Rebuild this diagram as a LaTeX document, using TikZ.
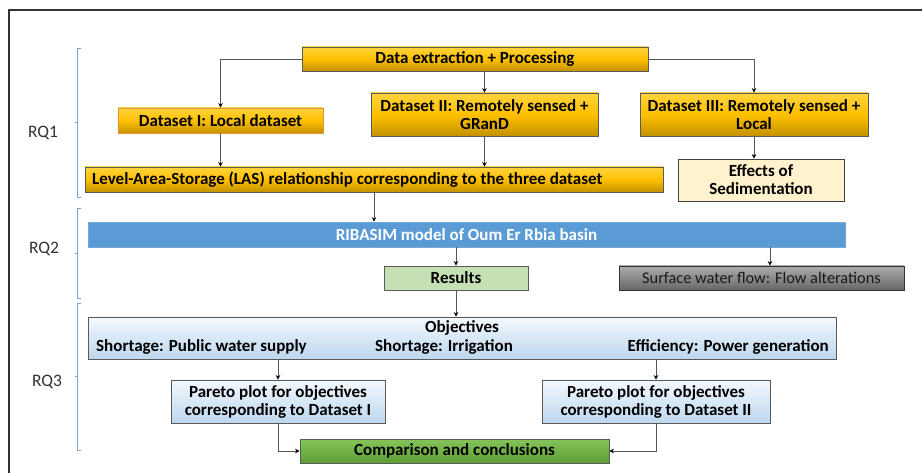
\documentclass[tikz,border=0pt]{standalone}
\usepackage{fontspec}
\setmainfont{Carlito}
\usetikzlibrary{arrows.meta,shadows}
\definecolor{goldT}{HTML}{FFD33F}
\definecolor{goldM}{HTML}{FFC000}
\definecolor{goldB}{HTML}{C29200}
\definecolor{bordr}{HTML}{5A5A5A}
\definecolor{orgbd}{HTML}{E8913A}
\definecolor{ltblT}{HTML}{F3F8FD}
\definecolor{ltblB}{HTML}{BDD7EE}
\definecolor{ribblue}{HTML}{5B9BD5}
\definecolor{resgreen}{HTML}{C5E0B4}
\definecolor{cmpT}{HTML}{84C45A}
\definecolor{cmpB}{HTML}{5F9E35}
\definecolor{surT}{HTML}{ADADAD}
\definecolor{surB}{HTML}{666666}
\definecolor{cream}{HTML}{FFF2CC}
\definecolor{bracec}{HTML}{7EA6DA}
\definecolor{connc}{HTML}{555555}
\tikzset{
  txt/.style={font=\fontsize{17}{18}\selectfont\bfseries},
  box/.style={draw=bordr, line width=0.9pt, rectangle, inner sep=0pt, align=center,
    txt, text=black,
    drop shadow={shadow xshift=1.2pt, shadow yshift=-1.2pt, opacity=0.35, fill=black}},
  goldbox/.style={box, top color=goldT, bottom color=goldB, middle color=goldM},
  bluebox/.style={box, top color=ltblT, bottom color=ltblB},
  conn/.style={draw=connc, line width=0.9pt, -{Stealth[length=4.5pt,width=4.5pt,black]}},
  bracestyle/.style={draw=bracec, line width=0.8pt},
  rqlabel/.style={font=\fontsize{17.5}{18}\selectfont, text=black!80}
}
\begin{document}
\begin{tikzpicture}[x=1pt,y=-1pt]
\useasboundingbox (0,0) rectangle (922,473);
\fill[white] (0,0) rectangle (922,473);
% frame
\draw[line width=1.4pt, black!80] (9,473) -- (9,10) -- (922,10);

% nodes
\node[goldbox, minimum width=346pt, minimum height=24pt] (dep) at (475,59) {Data extraction + Processing};
\node[goldbox, draw=orgbd, minimum width=205pt, minimum height=25pt] (d1) at (220.5,120.5) {Dataset I: Local dataset};
\node[goldbox, minimum width=227pt, minimum height=43pt] (d2) at (484.5,114.5) {Dataset II: Remotely sensed +\\GRanD};
\node[goldbox, minimum width=228pt, minimum height=43pt] (d3) at (754,114.5) {Dataset III: Remotely sensed +\\Local};
\node[goldbox, minimum width=578pt, minimum height=25pt] (las) at (374,179.5) {};
\node[txt, inner sep=0pt, anchor=west] (lastxt) at (92,179.5) {Level-Area-Storage (LAS) relationship corresponding to the three dataset};
\node[box, fill=cream, draw=black!75, minimum width=166pt, minimum height=42pt] (eff) at (761,180) {Effects of\\Sedimentation};
\node[box, fill=ribblue, draw=ribblue!85!white, line width=0.6pt, drop shadow={opacity=0}, text=white, minimum width=757pt, minimum height=25pt] (rib) at (466.5,234.5) {RIBASIM model of Oum Er Rbia basin};
\node[box, fill=resgreen, minimum width=144pt, minimum height=24pt] (res) at (456,278) {Results};
\node[box, top color=surT, bottom color=surB, draw=black!80, font=\fontsize{16.3}{18}\selectfont, text=black!90, minimum width=285pt, minimum height=24pt] (sur) at (761.5,278) {Surface water flow: Flow alterations};
\node[bluebox, minimum width=748pt, minimum height=42pt] (obj) at (462,338) {};
\node[txt, inner sep=0pt] (objt) at (462,328) {Objectives};
\node[txt, inner sep=0pt, anchor=west] (o1) at (96,347) {Shortage: Public water supply};
\node[txt, inner sep=0pt, anchor=west] (o2) at (375,347) {Shortage: Irrigation};
\node[txt, inner sep=0pt, anchor=east] (o3) at (829,347) {Efficiency: Power generation};
\node[bluebox, minimum width=214pt, minimum height=43pt] (p1) at (278,401.5) {Pareto plot for objectives\\corresponding to Dataset I};
\node[bluebox, minimum width=228pt, minimum height=43pt] (p2) at (656,401.5) {Pareto plot for objectives\\corresponding to Dataset II};
\node[box, top color=cmpT, bottom color=cmpB, minimum width=309pt, minimum height=24pt] (cmp) at (454.5,451) {Comparison and conclusions};

% RQ labels
\node[rqlabel] (rq1) at (43,133) {RQ1};
\node[rqlabel] (rq2) at (44,249) {RQ2};
\node[rqlabel] (rq3) at (47,382) {RQ3};

% braces
\draw[bracestyle] (80.5,48) -- (77,48) -- (77,197) -- (80.5,197);
\draw[bracestyle] (77,122) -- (74.5,122);
\draw[bracestyle] (80.5,208) -- (77,208) -- (77,298) -- (80.5,298);
\draw[bracestyle] (77,253) -- (74.5,253);
\draw[bracestyle] (80.5,303) -- (77,303) -- (77,450) -- (80.5,450);
\draw[bracestyle] (77,376) -- (74.5,376);

% connectors
\coordinate (sx) at (770,0);
\coordinate (ex) at (754,0);
\draw[conn] (dep.west) -| (d1.north);
\draw[conn] (d2.north |- dep.south) -- (d2.north);
\draw[conn] (dep.east) -| (d3.north);
\draw[conn] (d1.south) -- (d1.south |- las.north);
\draw[conn] (d2.south) -- (d2.south |- las.north);
\draw[conn] (d3.south) -- (ex |- eff.north);
\draw[conn] (las.south) -- (las.south |- rib.north);
\draw[conn] (res.north |- rib.south) -- (res.north);
\draw[conn] (sx |- rib.south) -- (sx |- sur.north);
\draw[conn] (res.south) -- (res.south |- obj.north);
\draw[conn] (p1.north |- obj.south) -- (p1.north);
\draw[conn] (p2.north |- obj.south) -- (p2.north);
\draw[conn] (p1.south) |- (cmp.west);
\draw[conn] (p2.south) |- (cmp.east);
\end{tikzpicture}
\end{document}
